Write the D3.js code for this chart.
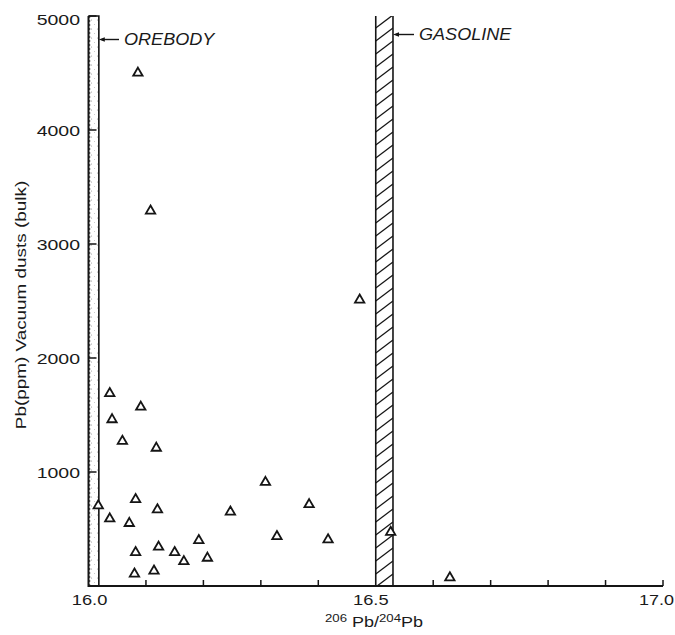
<!DOCTYPE html>
<html>
<head>
<meta charset="utf-8">
<script src="https://cdn.jsdelivr.net/npm/d3@7"></script>
<style>
  html, body { margin: 0; padding: 0; background: #fff; }
  svg { display: block; }
  text { font-family: "Liberation Sans", Arial, Helvetica, sans-serif; fill: #1a1a1a; }
</style>
</head>
<body>
<script>
// Lead isotope ratio vs. lead concentration in vacuum dust samples
const isotopeRatio = [16.086, 16.108, 16.472, 16.037, 16.091, 16.041, 16.059, 16.118,
  16.308, 16.017, 16.082, 16.120, 16.247, 16.037, 16.071, 16.328, 16.192, 16.082,
  16.122, 16.150, 16.166, 16.207, 16.080, 16.114, 16.384, 16.417, 16.526, 16.629];
const leadPpm = [4500, 3290, 2510, 1690, 1570, 1460, 1270, 1210,
  910, 705, 760, 670, 650, 590, 550, 435, 400, 295,
  342, 295, 215, 245, 106, 133, 715, 407, 472, 73];

// Source signatures drawn as vertical bands
const bandNames = ["OREBODY", "GASOLINE"];
const bandLow = [16.0, 16.5];
const bandHigh = [16.018, 16.53];

const xTickLabels = ["16.0", "16.5", "17.0"];
const xTickValues = [16.0, 16.5, 17.0];
const xMinorValues = [16.1, 16.2, 16.3, 16.4, 16.6, 16.7, 16.8, 16.9, 17.0];
const yTickValues = [1000, 2000, 3000, 4000, 5000];

const W = 675, H = 635;
const ink = "#151515";

const svg = d3.select("body").append("svg")
  .attr("width", W).attr("height", H)
  .attr("viewBox", `0 0 ${W} ${H}`);

const x = d3.scaleLinear().domain([16.0, 17.0]).range([88.5, 663]);
const y = d3.scaleLinear().domain([0, 5000]).range([586, 16]);

const defs = svg.append("defs");

// Light stipple for the ore body band
const stip = defs.append("pattern")
  .attr("id", "stipple").attr("patternUnits", "userSpaceOnUse")
  .attr("width", 6).attr("height", 9);
stip.append("circle").attr("cx", 1.5).attr("cy", 2).attr("r", 0.6).attr("fill", "#999");
stip.append("circle").attr("cx", 4.5).attr("cy", 6.5).attr("r", 0.5).attr("fill", "#bbb");

// Clip region for the gasoline hatching
const gx0 = x(bandLow[1]), gx1 = x(bandHigh[1]);
defs.append("clipPath").attr("id", "gasClip")
  .append("rect").attr("x", gx0).attr("y", y(5000))
  .attr("width", gx1 - gx0).attr("height", y(0) - y(5000));

// Ore body band
const ox0 = x(bandLow[0]), ox1 = x(bandHigh[0]);
svg.append("rect")
  .attr("x", ox0).attr("y", y(5000))
  .attr("width", ox1 - ox0).attr("height", y(0) - y(5000))
  .attr("fill", "url(#stipple)");
svg.append("line")
  .attr("x1", ox0 + 1.2).attr("x2", ox0 + 1.2).attr("y1", y(5000)).attr("y2", y(0))
  .attr("stroke", "#444").attr("stroke-width", 1).attr("stroke-dasharray", "2,2");
svg.append("path")
  .attr("d", `M${ox0},${y(5000)}H${ox1}V${y(0)}`)
  .attr("fill", "none").attr("stroke", ink).attr("stroke-width", 1.6);

// Gasoline band: hatching and edges
const hatch = svg.append("g").attr("clip-path", "url(#gasClip)");
const hatchStarts = d3.range(y(0) + 14, y(5000) - 2, -13);
hatch.selectAll("line").data(hatchStarts).join("line")
  .attr("x1", gx0).attr("y1", d => d)
  .attr("x2", gx1).attr("y2", d => d - 13)
  .attr("stroke", ink).attr("stroke-width", 1.3);
svg.append("line")
  .attr("x1", gx0).attr("x2", gx0).attr("y1", y(5000)).attr("y2", y(0))
  .attr("stroke", ink).attr("stroke-width", 1.6);
svg.append("line")
  .attr("x1", gx1).attr("x2", gx1).attr("y1", y(5000)).attr("y2", y(0))
  .attr("stroke", ink).attr("stroke-width", 1.6);

// Axes
svg.append("line")
  .attr("x1", x(16.0)).attr("x2", x(17.0)).attr("y1", y(0)).attr("y2", y(0))
  .attr("stroke", ink).attr("stroke-width", 2);
svg.append("line")
  .attr("x1", x(16.0)).attr("x2", x(16.0)).attr("y1", y(0) + 1).attr("y2", y(5000))
  .attr("stroke", ink).attr("stroke-width", 2);

svg.append("g").selectAll("line").data(xMinorValues).join("line")
  .attr("x1", d => x(d)).attr("x2", d => x(d))
  .attr("y1", y(0)).attr("y2", y(0) - 6)
  .attr("stroke", ink).attr("stroke-width", 1.5);

svg.append("g").selectAll("line").data(yTickValues).join("line")
  .attr("x1", x(16.0)).attr("x2", x(16.0) + 8)
  .attr("y1", d => y(d)).attr("y2", d => y(d))
  .attr("stroke", ink).attr("stroke-width", 1.5);

// Tick labels (wide lettering)
const fmtY = d3.format("d");
svg.append("g").selectAll("text").data(yTickValues).join("text")
  .attr("transform", d => `translate(80,${y(d) + (d === 5000 ? 9 : 6)}) scale(1.3,1)`)
  .attr("text-anchor", "end").attr("font-size", 15)
  .text(d => fmtY(d));

// last label sits against the right edge, so it is end-anchored
svg.append("g").selectAll("text").data(xTickValues).join("text")
  .attr("transform", (d, i) => i === 2
    ? `translate(674,605) scale(1.2,1)`
    : `translate(${x(d) - (i === 1 ? 5 : -1)},605) scale(1.22,1)`)
  .attr("text-anchor", (d, i) => i === 2 ? "end" : "middle")
  .attr("font-size", 15)
  .text((d, i) => xTickLabels[i]);

// Axis titles
svg.append("text")
  .attr("transform", `translate(26,305) rotate(-90) scale(1.22,1)`)
  .attr("text-anchor", "middle").attr("font-size", 15.5)
  .text("Pb(ppm) Vacuum dusts (bulk)");

const xt = svg.append("text")
  .attr("transform", `translate(374,627) scale(1.2,1)`)
  .attr("text-anchor", "middle").attr("font-size", 15);
xt.append("tspan").attr("font-size", 11).attr("dy", -5).text("206");
xt.append("tspan").attr("dy", 5).text(" Pb/");
xt.append("tspan").attr("font-size", 11).attr("dy", -5).text("204");
xt.append("tspan").attr("dy", 5).text("Pb");

// Band callouts
const calloutY = [39.5, 34.5];
const calloutX0 = [ox1, gx1];
const calloutText = [124, 419];
bandNames.forEach((name, i) => {
  const ax = calloutX0[i], ay = calloutY[i];
  svg.append("line")
    .attr("x1", ax + 3).attr("x2", calloutText[i] - 5)
    .attr("y1", ay).attr("y2", ay)
    .attr("stroke", ink).attr("stroke-width", 1.4);
  svg.append("path")
    .attr("d", `M${ax},${ay}L${ax + 6},${ay - 2.2}L${ax + 6},${ay + 2.2}Z`)
    .attr("fill", ink);
  svg.append("text")
    .attr("transform", `translate(${calloutText[i]},${ay + 5.5}) scale(1.13,1)`)
    .attr("font-size", 16).attr("font-style", "italic")
    .text(name);
});

// Samples
const tri = d3.symbol(d3.symbolTriangle).size(38);
svg.append("g").selectAll("path").data(isotopeRatio).join("path")
  .attr("transform", (d, i) => `translate(${x(d)},${y(leadPpm[i])})`)
  .attr("d", tri)
  .attr("fill", "#fff").attr("stroke", ink).attr("stroke-width", 1.8)
  .attr("stroke-linejoin", "miter");
</script>
</body>
</html>
